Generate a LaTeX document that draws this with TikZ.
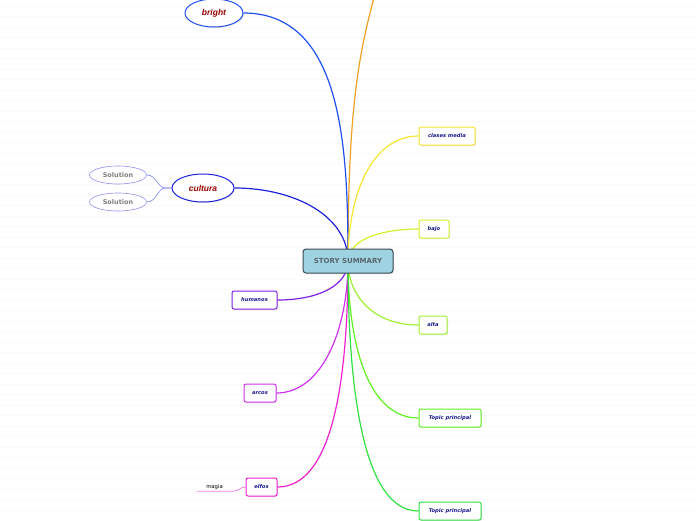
\documentclass[tikz,border=0pt]{standalone}
\usepackage{fontspec}
\setsansfont{DejaVu Sans}
\newfontfamily\arialfont{Liberation Sans}
\usetikzlibrary{shapes.geometric,shadows,backgrounds}
% 颜色
\definecolor{cbright}{HTML}{2050F0}
\definecolor{ccult}{HTML}{2020E0}
\definecolor{chum}{HTML}{8020E8}
\definecolor{carcos}{HTML}{D030F0}
\definecolor{celfos}{HTML}{F020D0}
\definecolor{cclases}{HTML}{F5E430}
\definecolor{cbajo}{HTML}{D8F028}
\definecolor{calta}{HTML}{A0F030}
\definecolor{ctopa}{HTML}{60F020}
\definecolor{ctopb}{HTML}{30E040}
\definecolor{corange}{HTML}{F0A020}
\definecolor{csol}{HTML}{9090F0}
\definecolor{cmagia}{HTML}{F080E0}
\definecolor{rootfill}{HTML}{9FD3E1}
\definecolor{rootline}{HTML}{3A4A55}
\definecolor{roottext}{HTML}{5A6670}
\definecolor{redtext}{HTML}{990000}
\definecolor{navytext}{HTML}{1A1A90}
\begin{document}
\begin{tikzpicture}[x=1pt, y=-1pt, every node/.style={inner sep=0pt},
  shade/.style={drop shadow={shadow xshift=1pt, shadow yshift=-1pt, opacity=0.2}},
  rootbox/.style={rectangle, rounded corners=3pt, draw=rootline, line width=1pt,
    fill=rootfill, minimum width=90pt, minimum height=24pt, text=roottext,
    font=\sffamily\bfseries\fontsize{7}{8}\selectfont, shade},
  topic/.style={rectangle, rounded corners=2pt, draw=#1, line width=1pt, fill=white,
    minimum height=18pt, text=navytext,
    font=\sffamily\bfseries\itshape\fontsize{5.2}{6}\selectfont, shade},
  mainoval/.style={ellipse, draw=#1, line width=1pt, fill=white, minimum height=28pt,
    text=redtext, font=\arialfont\bfseries\itshape\fontsize{8.5}{10}\selectfont, shade},
  soloval/.style={ellipse, draw=csol, line width=0.6pt, fill=white, minimum width=57pt,
    minimum height=18pt, text=gray, font=\sffamily\bfseries\fontsize{6.5}{7}\selectfont},
  branch/.style={line width=1.2pt},
  gridline/.style={gray!5, line width=0.5pt}]
  \useasboundingbox (0,0) rectangle (696,520);
  \clip (0,0) rectangle (696,520);
  % 中心主题
  \node[rootbox] (root) at (348,261) {STORY SUMMARY};
  % 左侧分支
  \node[mainoval=cbright, minimum width=58pt] (bright) at (214,13) {bright};
  \node[mainoval=ccult, minimum width=62pt] (cultura) at (203,188) {cultura};
  \node[soloval] (sola) at (118,175) {Solution};
  \node[soloval] (solb) at (118,202) {Solution};
  \node[topic=chum, minimum width=45pt] (humanos) at (254.5,300) {humanos};
  \node[topic=carcos, minimum width=32pt] (arcos) at (260,393) {arcos};
  \node[topic=celfos, minimum width=31pt] (elfos) at (261.5,487) {elfos};
  \node[minimum width=35pt, minimum height=8pt, font=\sffamily\fontsize{5.3}{6}\selectfont] (magia) at (214.5,487) {magia};
  % 右侧分支
  \node[topic=cclases, minimum width=56pt] (clases) at (447,136) {clases media};
  \node[topic=cbajo, minimum width=30pt] (bajo) at (434,229) {bajo};
  \node[topic=calta, minimum width=28pt] (alta) at (433,325) {alta};
  \node[topic=ctopa, minimum width=62pt] (topa) at (450,418) {Topic principal};
  \node[topic=ctopb, minimum width=62pt] (topb) at (450,511) {Topic principal};
  \coordinate (orangeend) at (376,-10);
  \begin{scope}[on background layer]
    % 背景横线
    \foreach \y in {6,16.5,...,520} {
      \draw[gridline] (0,\y) -- (696,\y);
    }
    % 连线
    \draw[branch,corange] (root.center) .. controls (348,100) and (360,50) .. (orangeend);
    \draw[branch,cbright] (root.center) .. controls +(0,-110) and +(100,0) .. (bright.east);
    \draw[branch,ccult] (root.center) .. controls +(0,-45) and +(60,0) .. (cultura.east);
    \draw[branch,chum] (root.center) .. controls +(0,25) and +(40,0) .. (humanos.east);
    \draw[branch,carcos] (root.center) .. controls +(0,70) and +(45,0) .. (arcos.east);
    \draw[branch,celfos] (root.center) .. controls +(0,120) and +(55,0) .. (elfos.east);
    \draw[branch,cclases] (root.center) .. controls +(0,-70) and +(-45,0) .. (clases.west);
    \draw[branch,cbajo] (root.center) .. controls +(0,-20) and +(-40,0) .. (bajo.west);
    \draw[branch,calta] (root.center) .. controls +(0,35) and +(-45,0) .. (alta.west);
    \draw[branch,ctopa] (root.center) .. controls +(0,85) and +(-50,0) .. (topa.west);
    \draw[branch,ctopb] (root.center) .. controls +(0,130) and +(-55,0) .. (topb.west);
    % 子节点连线
    \draw[csol, line width=0.7pt] (cultura.west) -- +(-6,0) .. controls +(-8,0) and +(10,0) .. (sola.east);
    \draw[csol, line width=0.7pt] (cultura.west) -- +(-6,0) .. controls +(-8,0) and +(10,0) .. (solb.east);
    \draw[cmagia, line width=0.8pt] (magia.south west) -- (magia.south east)
      .. controls +(8,0) and +(-6,0) .. (elfos.west);
  \end{scope}
\end{tikzpicture}
\end{document}
